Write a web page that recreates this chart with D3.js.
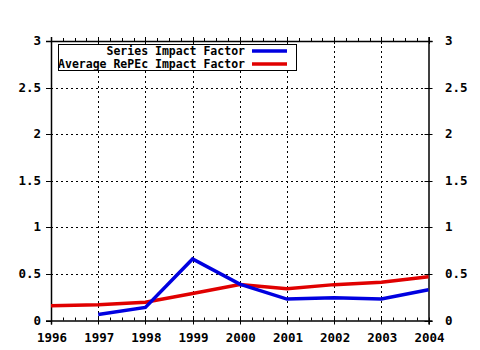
<!DOCTYPE html>
<html><head><meta charset="utf-8">
<script src="https://cdn.jsdelivr.net/npm/d3@7"></script>
<style>body{margin:0;background:#fff}svg{display:block}text{font-family:"DejaVu Sans Mono",monospace;font-weight:bold;font-size:11.5px;fill:#000}text.tk{font-size:12.5px}</style>
</head><body><svg id="c" width="480" height="350"></svg>
<script>
const years = [1996,1997,1998,1999,2000,2001,2002,2003,2004];
const seriesYears = [1997,1998,1999,2000,2001,2002,2003,2004];
const seriesImpact = [0.065,0.14,0.66,0.39,0.23,0.245,0.23,0.33];
const avgYears = [1996,1997,1998,1999,2000,2001,2002,2003,2004];
const avgImpact = [0.158,0.17,0.196,0.29,0.385,0.34,0.385,0.41,0.47];
const yTicks = [0,0.5,1,1.5,2,2.5,3];
const yTickLabels = ["0","0.5","1","1.5","2","2.5","3"];
const seriesNames = ["Series Impact Factor","Average RePEc Impact Factor"];
const colors = ["#0000e0","#e00000"];

const svg = d3.select("#c");
const L=51, R=428.5, T=41, B=320.5;
const x = d3.scaleLinear().domain([1996,2004]).range([L,R]);
const y = d3.scaleLinear().domain([0,3]).range([B,T]);

// grid
const g = svg.append("g");
years.slice(1,-1).forEach(v=>g.append("line").attr("x1",Math.round(x(v))+0.5).attr("x2",Math.round(x(v))+0.5).attr("y1",T).attr("y2",B)
  .attr("stroke","#000").attr("stroke-dasharray","2,3"));
yTicks.slice(1,-1).forEach(v=>g.append("line").attr("y1",Math.round(y(v))+0.5).attr("y2",Math.round(y(v))+0.5).attr("x1",L).attr("x2",R)
  .attr("stroke","#000").attr("stroke-dasharray","2,3"));

// minor ticks (quarter years)
const minor = d3.range(1996,2004.001,0.25).filter(v=>Math.abs(v-Math.round(v))>0.01);
minor.forEach(v=>{
  const xx=Math.round(x(v))+0.5;
  g.append("line").attr("x1",xx).attr("x2",xx).attr("y1",B).attr("y2",B-3).attr("stroke","#000");
  g.append("line").attr("x1",xx).attr("x2",xx).attr("y1",T).attr("y2",T-3).attr("stroke","#000");
});
// major x ticks
years.forEach(v=>{
  const xx=Math.round(x(v))+0.5;
  g.append("line").attr("x1",xx).attr("x2",xx).attr("y1",B-3).attr("y2",B+4).attr("stroke","#000");
  g.append("line").attr("x1",xx).attr("x2",xx).attr("y1",T-4).attr("y2",T+3).attr("stroke","#000");
});
// y ticks
yTicks.forEach(v=>{
  const yy=Math.round(y(v))+0.5;
  g.append("line").attr("x1",L-5).attr("x2",L).attr("y1",yy).attr("y2",yy).attr("stroke","#000");
  g.append("line").attr("x1",R-4).attr("x2",R+4).attr("y1",yy).attr("y2",yy).attr("stroke","#000");
});
// border
g.append("line").attr("x1",L+0.5).attr("x2",L+0.5).attr("y1",T-4).attr("y2",B+4).attr("stroke","#000").attr("stroke-width",1.5);
g.append("line").attr("x1",R+0.5).attr("x2",R+0.5).attr("y1",T-4).attr("y2",B+4).attr("stroke","#000").attr("stroke-width",1.5);
g.append("line").attr("x1",L-5).attr("x2",R+4).attr("y1",B+0.5).attr("y2",B+0.5).attr("stroke","#000").attr("stroke-width",1.5);
g.append("line").attr("x1",L-5).attr("x2",R+4).attr("y1",T+0.5).attr("y2",T+0.5).attr("stroke","#000").attr("stroke-width",1.5);

// tick labels
years.forEach(v=>svg.append("text").attr("class","tk").attr("x",x(v)+1).attr("y",B+21).attr("text-anchor","middle").text(v));
yTicks.forEach((v,i)=>{
  svg.append("text").attr("class","tk").attr("x",41).attr("y",y(v)+4).attr("text-anchor","end").text(yTickLabels[i]);
  svg.append("text").attr("class","tk").attr("x",445).attr("y",y(v)+4).attr("text-anchor","start").text(yTickLabels[i]);
});

// lines
const line = d3.line().x(d=>x(d[0])).y(d=>y(d[1]));
svg.append("path").datum(avgYears.map((v,i)=>[v,avgImpact[i]])).attr("d",line).attr("fill","none").attr("stroke",colors[1]).attr("stroke-width",3.5);
svg.append("path").datum(seriesYears.map((v,i)=>[v,seriesImpact[i]])).attr("d",line).attr("fill","none").attr("stroke",colors[0]).attr("stroke-width",3.5);

// legend
const lg = svg.append("g");
lg.append("rect").attr("x",58.5).attr("y",44.5).attr("width",238).attr("height",26).attr("fill","#fff").attr("stroke","#000").attr("stroke-width",1);
seriesNames.forEach((n,i)=>{
  const yy = 51 + i*13;
  lg.append("text").attr("x",245).attr("y",yy+4).attr("text-anchor","end").text(n);
  lg.append("line").attr("x1",252).attr("x2",287).attr("y1",yy).attr("y2",yy).attr("stroke",colors[i]).attr("stroke-width",3.5);
});
</script></body></html>
